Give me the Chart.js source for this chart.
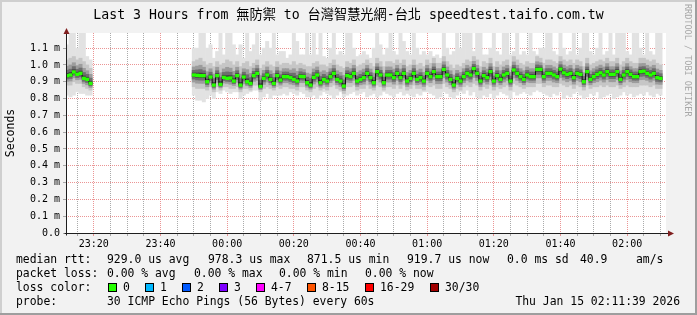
<!DOCTYPE html>
<html>
<head>
<meta charset="utf-8">
<script src="https://cdn.jsdelivr.net/npm/chart.js@4.4.1/dist/chart.umd.min.js"></script>
<style>
  html, body { margin: 0; padding: 0; background: #f2f2f2; }
  #wrap { position: relative; width: 697px; height: 315px; overflow: hidden; }
  #wrap canvas { position: absolute; left: 0; top: 0; }
  .txt { position: absolute; white-space: pre; color: #000;
         font-family: "DejaVu Sans Mono", "Noto Sans CJK TC", monospace; }
  .leg { font-size: 11.4px; line-height: 14px; }
  .sw { position: absolute; top: 283px; width: 7px; height: 7px; border: 1px solid #000; }
</style>
</head>
<body>
<div id="wrap">
  <canvas id="chart" width="697" height="315"></canvas>

  <div class="txt" style="left:0;top:7px;width:697px;text-align:center;font-size:13.2px;line-height:16px">Last 3 Hours from 無防禦 to 台灣智慧光網-台北 speedtest.taifo.com.tw</div>
  <div class="txt" style="left:683px;top:4px;writing-mode:vertical-rl;font-size:8.5px;line-height:10px;color:#a8a8a8">RRDTOOL / TOBI OETIKER</div>

  <!-- legend rows -->
  <div class="txt leg" style="left:16px;top:252px">median rtt:</div>
  <div class="txt leg" style="left:107px;top:252px">929.0 us avg</div>
  <div class="txt leg" style="left:208px;top:252px">978.3 us max</div>
  <div class="txt leg" style="left:307px;top:252px">871.5 us min</div>
  <div class="txt leg" style="left:407px;top:252px">919.7 us now</div>
  <div class="txt leg" style="left:507px;top:252px">0.0 ms sd</div>
  <div class="txt leg" style="left:580px;top:252px">40.9</div>
  <div class="txt leg" style="left:636px;top:252px">am/s</div>

  <div class="txt leg" style="left:16px;top:266px">packet loss:</div>
  <div class="txt leg" style="left:107px;top:266px">0.00 % avg</div>
  <div class="txt leg" style="left:194px;top:266px">0.00 % max</div>
  <div class="txt leg" style="left:279px;top:266px">0.00 % min</div>
  <div class="txt leg" style="left:365px;top:266px">0.00 % now</div>

  <div class="txt leg" style="left:16px;top:280px">loss color:</div>
  <div id="lossLegend"></div>

  <div class="txt leg" style="left:16px;top:294px">probe:</div>
  <div class="txt leg" style="left:107px;top:294px">30 ICMP Echo Pings (56 Bytes) every 60s</div>
  <div class="txt leg" style="right:17px;top:294px">Thu Jan 15 02:11:39 2026</div>
</div>

<script>
// minutes after 23:00 of the first sample, one sample per minute
var startMinute = 12;

// median rtt (ms), one value per minute, null = no data
var median = [
    0.936, 0.940, 0.958, 0.944, 0.950, 0.920, 0.914, 0.890,
    null, null, null, null, null, null, null, null, null, null,
    null, null, null, null, null, null, null, null, null, null,
    null, null, null, null, null, null, null, null, null, null,
    0.940, 0.938, 0.936, 0.936, 0.900, 0.928, 0.880, 0.936, 0.884, 0.926,
    0.920, 0.922, 0.904, 0.936, 0.880, 0.928, 0.900, 0.890, 0.936, 0.950,
    0.872, 0.920, 0.940, 0.914, 0.890, 0.936, 0.910, 0.930, 0.930, 0.924,
    0.914, 0.904, 0.932, 0.930, 0.894,
    0.880, 0.926, 0.940, 0.894, 0.914, 0.904, 0.930, 0.950, 0.914, 0.904,
    0.874, 0.936, 0.930, 0.950, 0.904, 0.914, 0.924, 0.950, 0.924, 0.894,
    0.960, 0.940, 0.894, 0.940, 0.940, 0.924, 0.950, 0.924, 0.950, 0.904,
    0.920, 0.950, 0.914, 0.924, 0.904,
    0.950, 0.930, 0.960, 0.930, 0.930, 0.973, 0.940, 0.914, 0.880, 0.920,
    0.904, 0.930, 0.950, 0.940, 0.978, 0.950, 0.904, 0.936, 0.924, 0.960,
    0.904, 0.936, 0.914, 0.940, 0.950, 0.904, 0.970, 0.950, 0.930, 0.914,
    0.940, 0.930, 0.930, 0.973, 0.973,
    0.930, 0.950, 0.950, 0.940, 0.930, 0.975, 0.953, 0.944, 0.950, 0.924,
    0.950, 0.944, 0.900, 0.960, 0.914, 0.930, 0.944, 0.953, 0.940, 0.960,
    0.944, 0.944, 0.960, 0.914, 0.940, 0.960, 0.944, 0.930, 0.930, 0.960,
    0.963, 0.950, 0.940, 0.950, 0.924, 0.920
];

// slowest ping of each minute (top of the smoke)
var pingMax = [
    1.12, 1.19, 1.19, 1.10, 1.19, 1.19, 1.05, 1.03,
    null, null, null, null, null, null, null, null, null, null,
    null, null, null, null, null, null, null, null, null, null,
    null, null, null, null, null, null, null, null, null, null,
    1.10, 1.10, 1.19, 1.19, 1.10, 1.12, 1.04, 1.08, 1.19, 1.06,
    1.19, 1.19, 1.12, 1.06, 1.12, 1.04, 1.19, 1.08, 1.12, 1.19,
    1.06, 1.10, 1.14, 1.10, 1.19, 1.06, 1.08, 1.08, 1.04, 1.06,
    1.19, 1.14, 1.06, 1.06, 1.19,
    1.06, 1.19, 1.06, 1.19, 1.05, 1.04, 1.10, 1.19, 1.06, 1.08,
    1.06, 1.19, 1.19, 1.10, 1.05, 1.06, 1.08, 1.06, 1.04, 1.10,
    1.19, 1.12, 1.06, 1.10, 1.19, 1.08, 1.06, 1.19, 1.14, 1.08,
    1.06, 1.19, 1.10, 1.06, 1.08,
    1.06, 1.08, 1.05, 1.06, 1.04, 1.19, 1.10, 1.06, 1.08, 1.19,
    1.10, 1.19, 1.19, 1.19, 1.08, 1.19, 1.19, 1.06, 1.06, 1.10,
    1.19, 1.08, 1.06, 1.19, 1.19, 1.06, 1.08, 1.19, 1.06, 1.08,
    1.06, 1.19, 1.08, 1.06, 1.10,
    1.10, 1.19, 1.19, 1.08, 1.06, 1.19, 1.10, 1.06, 1.08, 1.19,
    1.06, 1.10, 1.19, 1.19, 1.08, 1.06, 1.10, 1.19, 1.06, 1.08,
    1.19, 1.06, 1.19, 1.19, 1.19, 1.08, 1.06, 1.19, 1.19, 1.10,
    1.06, 1.19, 1.08, 1.06, 1.19, 1.19
];

// fastest ping of each minute (bottom of the smoke)
var pingMin = [
    0.82, 0.81, 0.82, 0.84, 0.83, 0.83, 0.82, 0.82,
    null, null, null, null, null, null, null, null, null, null,
    null, null, null, null, null, null, null, null, null, null,
    null, null, null, null, null, null, null, null, null, null,
    0.82, 0.79, 0.79, 0.78, 0.80, 0.82, 0.80, 0.84, 0.83, 0.85,
    0.84, 0.83, 0.84, 0.84, 0.80, 0.82, 0.83, 0.84, 0.85, 0.85,
    0.79, 0.81, 0.83, 0.80, 0.82, 0.82, 0.82, 0.83, 0.82, 0.84,
    0.83, 0.82, 0.84, 0.83, 0.81,
    0.81, 0.82, 0.80, 0.82, 0.84, 0.83, 0.82, 0.80, 0.82, 0.84,
    0.81, 0.82, 0.83, 0.84, 0.82, 0.83, 0.84, 0.81, 0.82, 0.83,
    0.81, 0.82, 0.84, 0.83, 0.82, 0.81, 0.83, 0.84, 0.82, 0.83,
    0.82, 0.81, 0.83, 0.82, 0.84,
    0.84, 0.83, 0.82, 0.80, 0.81, 0.84, 0.83, 0.81, 0.80, 0.82,
    0.84, 0.83, 0.85, 0.82, 0.84, 0.81, 0.80, 0.82, 0.81, 0.83,
    0.80, 0.82, 0.84, 0.83, 0.82, 0.80, 0.84, 0.82, 0.83, 0.84,
    0.83, 0.82, 0.84, 0.85, 0.84,
    0.83, 0.82, 0.81, 0.83, 0.82, 0.84, 0.80, 0.82, 0.81, 0.83,
    0.84, 0.82, 0.80, 0.81, 0.83, 0.82, 0.84, 0.80, 0.81, 0.82,
    0.83, 0.80, 0.81, 0.82, 0.84, 0.82, 0.83, 0.81, 0.82, 0.83,
    0.82, 0.84, 0.82, 0.81, 0.83, 0.82
];

// edges of the denser part of the smoke
var innerHigh = [
    1.03, 1.04, 1.05, 1.03, 1.04, 1.02, 1.00, 0.98,
    null, null, null, null, null, null, null, null, null, null,
    null, null, null, null, null, null, null, null, null, null,
    null, null, null, null, null, null, null, null, null, null,
    1.02, 1.03, 1.04, 1.02, 1.00, 1.01, 0.99, 1.02, 1.00, 1.01,
    1.03, 1.02, 1.00, 1.02, 0.99, 1.01, 1.02, 0.99, 1.01, 1.03,
    0.98, 1.00, 1.02, 1.00, 0.99, 1.02, 1.00, 1.01, 1.01, 1.00,
    1.02, 1.00, 1.01, 1.00, 0.99,
    0.99, 1.01, 1.02, 1.00, 1.00, 0.99, 1.01, 1.03, 1.00, 0.99,
    0.98, 1.02, 1.01, 1.03, 0.99, 1.00, 1.01, 1.03, 1.01, 0.99,
    1.04, 1.02, 0.99, 1.02, 1.02, 1.01, 1.03, 1.01, 1.03, 0.99,
    1.00, 1.03, 1.00, 1.01, 0.99,
    1.03, 1.01, 1.04, 1.01, 1.01, 1.05, 1.02, 1.00, 0.98, 1.00,
    0.99, 1.01, 1.03, 1.02, 1.05, 1.03, 0.99, 1.02, 1.01, 1.04,
    0.99, 1.02, 1.00, 1.02, 1.03, 0.99, 1.05, 1.03, 1.01, 1.00,
    1.02, 1.01, 1.01, 1.05, 1.04,
    1.01, 1.03, 1.03, 1.02, 1.01, 1.05, 1.03, 1.02, 1.03, 1.01,
    1.03, 1.02, 0.99, 1.04, 1.00, 1.01, 1.02, 1.03, 1.02, 1.04,
    1.02, 1.02, 1.04, 1.00, 1.02, 1.04, 1.02, 1.01, 1.01, 1.04,
    1.04, 1.03, 1.02, 1.03, 1.01, 1.00
];

var innerLow = [
    0.88, 0.88, 0.90, 0.89, 0.89, 0.87, 0.86, 0.85,
    null, null, null, null, null, null, null, null, null, null,
    null, null, null, null, null, null, null, null, null, null,
    null, null, null, null, null, null, null, null, null, null,
    0.87, 0.86, 0.86, 0.86, 0.85, 0.87, 0.84, 0.87, 0.85, 0.87,
    0.87, 0.86, 0.86, 0.87, 0.84, 0.86, 0.86, 0.85, 0.88, 0.88,
    0.84, 0.86, 0.87, 0.86, 0.85, 0.87, 0.86, 0.87, 0.87, 0.86,
    0.86, 0.85, 0.87, 0.87, 0.85,
    0.84, 0.86, 0.87, 0.85, 0.86, 0.85, 0.87, 0.88, 0.86, 0.85,
    0.83, 0.87, 0.87, 0.88, 0.85, 0.86, 0.86, 0.88, 0.86, 0.85,
    0.88, 0.87, 0.85, 0.87, 0.87, 0.86, 0.88, 0.86, 0.88, 0.85,
    0.86, 0.88, 0.86, 0.86, 0.85,
    0.88, 0.87, 0.88, 0.86, 0.86, 0.89, 0.87, 0.86, 0.84, 0.86,
    0.85, 0.87, 0.88, 0.87, 0.89, 0.88, 0.85, 0.87, 0.86, 0.88,
    0.85, 0.87, 0.86, 0.87, 0.88, 0.85, 0.89, 0.88, 0.87, 0.86,
    0.87, 0.87, 0.87, 0.89, 0.89,
    0.87, 0.88, 0.88, 0.87, 0.87, 0.89, 0.88, 0.87, 0.88, 0.86,
    0.88, 0.87, 0.85, 0.88, 0.86, 0.87, 0.87, 0.88, 0.87, 0.88,
    0.87, 0.87, 0.88, 0.86, 0.87, 0.88, 0.87, 0.87, 0.87, 0.88,
    0.88, 0.88, 0.87, 0.88, 0.86, 0.86
];

var xTickLabels = ["23:20", "23:40", "00:00", "00:20", "00:40", "01:00", "01:20", "01:40", "02:00"];
var yTickLabels = ["0.0", "0.1 m", "0.2 m", "0.3 m", "0.4 m", "0.5 m", "0.6 m",
                   "0.7 m", "0.8 m", "0.9 m", "1.0 m", "1.1 m"];

var lossLabels = ["0", "1", "2", "3", "4-7", "8-15", "16-29", "30/30"];
var lossColors = ["#26ff00", "#00b8ff", "#0059ff", "#7e00ff", "#ff00ff", "#ff5500", "#ff0000", "#a10000"];

var MONO = "DejaVu Sans Mono";

// loss color legend
var swatchX = [108, 145, 182, 219, 256, 307, 365, 430];
var legendBox = document.getElementById("lossLegend");
lossLabels.forEach(function (lab, i) {
    var sw = document.createElement("div");
    sw.className = "sw";
    sw.style.left = swatchX[i] + "px";
    sw.style.background = lossColors[i];
    legendBox.appendChild(sw);
    var t = document.createElement("div");
    t.className = "txt leg";
    t.style.left = (swatchX[i] + 15) + "px";
    t.style.top = "280px";
    t.textContent = lab;
    legendBox.appendChild(t);
});

// "HH:MM" -> minutes after 23:00
function labelToMinute(s) {
    var p = s.split(":").map(Number);
    return ((p[0] - 23 + 24) % 24) * 60 + p[1];
}
var labelByMinute = {};
xTickLabels.forEach(function (l) { labelByMinute[labelToMinute(l)] = l; });

// floating bars for one smoke layer
function smokeLayer(lowArr, highArr) {
    var pts = [];
    median.forEach(function (m, i) {
        if (m === null) return;
        pts.push({ x: startMinute + i, y: [lowArr[i], highArr[i]] });
    });
    return pts;
}

// inner layers squeezed towards the median
function coreLayer(frac) {
    var pts = [];
    median.forEach(function (m, i) {
        if (m === null) return;
        pts.push({ x: startMinute + i,
                   y: [m - (m - innerLow[i]) * frac, m + (innerHigh[i] - m) * frac] });
    });
    return pts;
}

function smokeDataset(data, color, order) {
    return {
        type: "bar", data: data, backgroundColor: color, borderWidth: 0,
        grouped: false, barPercentage: 1, categoryPercentage: 1, order: order
    };
}

var greenMarks = [];
median.forEach(function (m, i) {
    if (m === null) return;
    greenMarks.push({ x: startMinute + i, y: [m - 0.008, m + 0.008] });
});

var medianLine = median.map(function (m, i) { return { x: startMinute + i, y: m }; });

// background, frame, axis lines and arrows
var rrdFrame = {
    id: "rrdFrame",
    beforeDraw: function (chart) {
        var ctx = chart.ctx, a = chart.chartArea;
        ctx.save();
        ctx.fillStyle = "#f2f2f2";
        ctx.fillRect(0, 0, chart.width, chart.height);
        ctx.fillStyle = "#cfcfcf";
        ctx.fillRect(0, 0, chart.width, 2);
        ctx.fillRect(0, 0, 2, chart.height);
        ctx.fillStyle = "#9e9e9e";
        ctx.fillRect(0, chart.height - 2, chart.width, 2);
        ctx.fillRect(chart.width - 2, 0, 2, chart.height);
        ctx.fillStyle = "#ffffff";
        ctx.fillRect(a.left, a.top, a.right - a.left, a.bottom - a.top);
        ctx.restore();
    },
    afterDraw: function (chart) {
        var ctx = chart.ctx, a = chart.chartArea;
        var ax = Math.round(a.left) + 0.5, ay = Math.round(a.bottom) + 0.5;
        ctx.save();
        ctx.strokeStyle = "#1f1f1f";
        ctx.lineWidth = 1;
        ctx.beginPath();
        ctx.moveTo(ax, ay + 2);
        ctx.lineTo(ax, a.top - 2);
        ctx.moveTo(ax - 2, ay);
        ctx.lineTo(a.right + 3, ay);
        ctx.stroke();
        ctx.fillStyle = "#801f1f";
        ctx.beginPath();
        ctx.moveTo(ax - 3, a.top + 1);
        ctx.lineTo(ax + 3, a.top + 1);
        ctx.lineTo(ax, a.top - 5);
        ctx.closePath();
        ctx.fill();
        ctx.beginPath();
        ctx.moveTo(a.right + 2, ay - 3);
        ctx.lineTo(a.right + 2, ay + 3);
        ctx.lineTo(a.right + 8, ay);
        ctx.closePath();
        ctx.fill();
        ctx.restore();
    }
};

var GRID = "rgba(143,143,143,0.75)";
var MGRID = "rgba(222,79,79,0.6)";

function xGridColor(c) {
    if (!c || !c.tick) return GRID;
    return labelByMinute[c.tick.value] ? MGRID : GRID;
}

var ctx = document.getElementById("chart").getContext("2d");
new Chart(ctx, {
    type: "bar",
    data: {
        datasets: [
            smokeDataset(smokeLayer(pingMin, pingMax), "#e2e2e2", 10),
            smokeDataset(smokeLayer(innerLow, innerHigh), "#c6c6c6", 9),
            smokeDataset(coreLayer(0.6), "#9c9c9c", 8),
            smokeDataset(coreLayer(0.35), "#6e6e6e", 7),
            smokeDataset(coreLayer(0.15), "#404040", 6),
            {
                type: "line", data: medianLine, stepped: "middle", borderColor: "#111111",
                borderWidth: 1, pointRadius: 0, spanGaps: false, order: 2
            },
            {
                type: "bar", data: greenMarks, backgroundColor: "#26ff00", borderWidth: 0,
                grouped: false, barPercentage: 1, categoryPercentage: 1, order: 1
            }
        ]
    },
    options: {
        responsive: false,
        animation: false,
        devicePixelRatio: 1,
        layout: { padding: { left: 0, top: 33, right: 31, bottom: 62 } },
        plugins: { legend: { display: false }, tooltip: { enabled: false } },
        scales: {
            x: {
                type: "linear",
                offset: false,
                min: 11.65,
                max: 191.65,
                afterBuildTicks: function (scale) {
                    var t = [];
                    for (var v = 15; v <= 190; v += 5) t.push({ value: v });
                    scale.ticks = t;
                },
                afterFit: function (scale) { scale.height = 20; },
                ticks: {
                    autoSkip: false, maxRotation: 0, padding: 2, color: "#000",
                    font: { family: MONO, size: 10 },
                    callback: function (v) { return labelByMinute[v] || ""; }
                },
                grid: { offset: false, tickLength: 3, color: xGridColor },
                border: { display: false, dash: [1, 1] }
            },
            y: {
                type: "linear",
                min: 0,
                max: 1.19,
                afterBuildTicks: function (scale) {
                    scale.ticks = yTickLabels.map(function (l) { return { value: parseFloat(l) }; });
                },
                afterFit: function (scale) { scale.width = 66; },
                ticks: {
                    padding: 3, color: "#000",
                    font: { family: MONO, size: 10 },
                    callback: function (v, i) { return yTickLabels[i]; }
                },
                grid: { tickLength: 3, color: MGRID, tickColor: GRID },
                border: { display: false, dash: [1, 1] },
                title: {
                    display: true, text: "Seconds", color: "#000",
                    font: { family: MONO, size: 11.5 },
                    padding: { top: 4, bottom: 0 }
                }
            }
        }
    },
    plugins: [rrdFrame]
});
</script>
</body>
</html>
